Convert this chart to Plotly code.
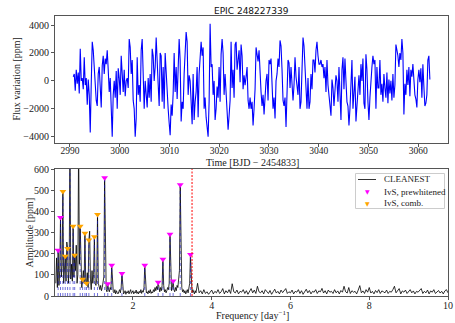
import numpy as np
import plotly.graph_objects as go

# ---------------- light curve (top panel) ----------------
t_start = 2990.67
cadence = 0.2008
flux = [300, 500, -700, 800, -200, 600, -900, 2300, 0, 200, -600, 1700, -300, 200, -1700, 100, -1000, -3700, -200, 2800,
        2200, 1000, -1000, -1400, -1800, 500, 1000, -800, -1900, 1100, 1800, 500, 1600, 1200, 2200, 800, -800, 200, -2300, -4000,
        -1000, 0, -1200, 700, -2000, 900, 200, -1000, 1800, 500, -800, 800, -1100, 0, 200, -500, 3000, 2400, 500, 1500,
        -1400, -2000, -4000, -2700, 1700, -1000, -300, -1500, 2200, 3000, 1000, -2000, 0, -1000, -1900, 200, -1200, 500, -1500, 2300,
        1800, 0, 1000, 3100, 800, -200, -1800, 2000, 1800, -1500, 1000, -2000, 2000, 600, -1500, -2000, -3000, -3900, -1700, -2500,
        -900, 2000, -800, 1000, -1300, 2000, 3000, 1500, -2900, -1500, -2000, 500, 1800, 3500, 2800, -1000, 400, 0, -1500, -3100,
        500, -2800, -1500, -800, 1000, -2600, 500, 2000, 2800, 1800, 2400, -2000, -1200, -2600, -3700, -4000, -1500, 4100, 1000, 1200,
        -1000, 0, -2800, -2000, -400, -1200, 1000, -1500, 1900, 3000, 2000, -1000, 500, -1000, -2000, -3500, -2500, -1400, 2800, -500,
        800, -1200, 2600, 2800, 800, 1800, 2200, -100, 2600, 1800, -600, 400, -300, 300, 1000, -1400, -2000, -1200, -2000, -1500,
        -3200, -2000, -600, 2400, 1700, 1400, 2200, 0, -800, -1800, -1000, -2400, -500, 0, 500, -1400, 1500, 1200, 1600, -800,
        -2000, -1200, -2700, 0, 500, 1600, 1000, 2900, 2500, 800, -1400, -1800, -1200, -3300, -1500, 1500, 1300, -500, 1000, 0,
        -1400, -300, 1700, 300, -500, -1000, 1000, -2000, -1500, 400, 3100, 2500, 900, -1400, -2000, 200, -2000, -1500, 500, -600,
        1500, 1500, 600, 2200, 2800, 1800, 1200, 1200, 1500, 1000, 1200, 200, 1000, -800, 1500, -300, -1000, -1400, -2500, 100,
        -500, -1800, -1000, 400, 0, -1500, 1000, -2000, -2800, 800, 1700, -600, 1600, 0, -1500, -1800, -3200, -2000, -600, 1500,
        -2000, -1000, 300, -2900, -1500, -400, 400, -1000, 1200, 0, 1600, -1600, -2000, 1900, 800, -1500, -2800, -1200, 500, 1000,
        1800, 1200, 1500, -2000, 1000, -500, -500, 1500, -1000, -200, -1500, 500, -500, -1200, 600, -1600, 100, -900, 0, -1400,
        500, -1200, -300, 2600, 2200, 1800, 1000, 2000, 1500, 3000, 2000, -2400, -200, -1000, 800, -300, 1000, -1100, 800, 300,
        1200, -300, -1000, -1300, -1900, 100, 800, -100, 900, -1200, 1200, -400, -1800, -1600, -1000, 1500, 1800, 100]
time = t_start + cadence * np.arange(len(flux))

# ---------------- amplitude spectrum (bottom panel) ----------------
freq_low_start, freq_low_step = 0.04, 0.02
amp_low = [60, 180, 40, 216, 50, 120, 371, 90, 140, 494,
           60, 130, 188, 70, 255, 224, 60, 130, 720, 80,
           150, 70, 329, 90, 193, 120, 240, 60, 100, 720,
           150, 329, 90, 40, 79, 120, 60, 297, 70, 60,
           110, 40, 264, 306, 80, 30, 120, 60, 100, 280,
           60, 50, 80, 385, 60, 40, 30, 50, 25, 40,
           60, 90, 559, 80, 30, 20, 58, 30, 20, 40,
           30, 145, 50, 20, 15, 30, 10, 25, 15, 10,
           20, 30, 15, 40, 106, 30, 10, 15, 25, 8,
           20, 15, 25, 10, 20, 30, 12, 18, 25, 10,
           20, 15, 28, 12, 20, 10, 22, 15, 30, 12,
           25, 18, 40, 145, 40, 15, 20, 10, 25, 15,
           30, 12, 20, 15, 30, 20, 40, 25, 45, 30,
           65, 30, 20, 40, 25, 50, 174, 50, 20, 30,
           15, 25, 40, 30, 60, 292, 60, 25, 40, 71,
           30, 20, 40, 25, 50, 40, 80, 120, 526, 100,
           40, 20, 30, 15, 25, 10, 20, 30, 15, 40,
           60, 196, 40, 15, 30, 20, 10, 25, 15]
freq_high_start, freq_high_step = 3.64, 0.04
amp_high = [60, 15, 25, 10, 30, 12, 20, 8, 18, 28, 10, 22, 15, 30, 12, 20, 35, 10, 25, 15,
            30, 12, 58, 20, 15, 28, 10, 22, 18, 30, 12, 25, 8, 20, 35, 15, 28, 12, 46, 20,
            15, 25, 10, 30, 18, 12, 26, 8, 20, 32, 14, 22, 10, 28, 16, 24, 35, 12, 20, 15,
            28, 10, 22, 18, 30, 12, 25, 8, 20, 32, 15, 26, 10, 22, 18, 30, 12, 24, 20, 36,
            14, 25, 10, 28, 18, 22, 12, 30, 15, 24, 10, 26, 18, 46, 20, 14, 40, 12, 25, 18,
            22, 10, 28, 49, 15, 24, 12, 30, 18, 40, 14, 22, 10, 26, 16, 30, 12, 24, 20, 15,
            28, 12, 22, 18, 30, 46, 15, 25, 35, 10, 24, 18, 28, 12, 20, 30, 15, 24, 10, 22,
            18, 26, 35, 12, 22, 15, 28, 10, 24, 18, 30, 12, 20, 26, 14, 22, 10, 24, 30, 15]
freq = np.concatenate([
    np.round(freq_low_start + freq_low_step * np.arange(len(amp_low)), 3),
    np.round(freq_high_start + freq_high_step * np.arange(len(amp_high)), 3),
])
amp = np.array(amp_low + amp_high, dtype=float)

prew_f = [0.10, 0.16, 0.40, 1.28, 1.36, 1.46, 1.72, 2.30, 2.64, 2.76, 2.94, 3.02, 3.20, 3.46]
prew_a = [216, 371, 720, 559, 58, 145, 106, 145, 65, 174, 292, 71, 526, 196]
comb_f = [0.22, 0.28, 0.34, 0.48, 0.52, 0.66, 0.72, 0.78, 0.82, 0.88, 1.02, 1.10]
comb_a = [494, 188, 224, 329, 193, 329, 79, 297, 60, 264, 280, 385]
nyquist_f = 3.5

title_text = "EPIC 248227339"
legend_labels = ["CLEANEST", "IvS, prewhitened", "IvS, comb."]

# ---------------- figure ----------------
SERIF = "Liberation Serif, DejaVu Serif, serif"
SANS = "DejaVu Sans, sans-serif"
AX = "#555555"
TXT = "#222222"
MAG = "#ff00ff"
ORG = "#ffa500"

fig = go.Figure()

fig.add_trace(go.Scatter(x=time, y=flux, mode="lines",
                         line=dict(color="#0000ff", width=1.1),
                         xaxis="x", yaxis="y", showlegend=False))

fig.add_trace(go.Scatter(x=freq, y=amp, mode="lines", name=legend_labels[0],
                         line=dict(color="rgba(0,0,0,0.8)", width=1),
                         xaxis="x2", yaxis="y2", showlegend=False))

# stems for identified frequencies
stem_x, stem_y = [], []
for f, a in list(zip(prew_f, prew_a)) + list(zip(comb_f, comb_a)):
    stem_x += [f, f, None]
    stem_y += [0, a, None]
fig.add_trace(go.Scatter(x=stem_x, y=stem_y, mode="lines",
                         line=dict(color="rgba(20,20,200,0.6)", width=1, dash="dot"),
                         xaxis="x2", yaxis="y2", showlegend=False, hoverinfo="skip"))

fig.add_trace(go.Scatter(x=prew_f, y=prew_a, mode="markers", name=legend_labels[1],
                         marker=dict(symbol="triangle-down", size=6, color=MAG),
                         xaxis="x2", yaxis="y2", showlegend=False))
fig.add_trace(go.Scatter(x=comb_f, y=comb_a, mode="markers", name=legend_labels[2],
                         marker=dict(symbol="triangle-down", size=6, color=ORG),
                         xaxis="x2", yaxis="y2", showlegend=False))

fig.add_shape(type="line", x0=nyquist_f, x1=nyquist_f, y0=0, y1=1,
              xref="x2", yref="y2 domain",
              line=dict(color="red", width=1, dash="2px,1.5px"))

# ---- legend box (drawn manually, paper coordinates of the lower panel) ----
def px_x(px):
    return (px - 55) / 393.0

def px_y(py):
    return (296 - py) / 280.0

fig.add_shape(type="rect", xref="paper", yref="paper",
              x0=px_x(355.5), x1=px_x(444.5), y0=px_y(208.5), y1=px_y(173.5),
              line=dict(color="#cccccc", width=1), fillcolor="rgba(255,255,255,0.85)")
fig.add_shape(type="line", xref="paper", yref="paper",
              x0=px_x(358), x1=px_x(376), y0=px_y(179.5), y1=px_y(179.5),
              line=dict(color="rgba(0,0,0,0.8)", width=1))

legend_rows_y = [179.5, 191.5, 203]
annotations = []
for label, ry in zip(legend_labels, legend_rows_y):
    annotations.append(dict(text=label, x=px_x(382), y=px_y(ry), xref="paper", yref="paper",
                            xanchor="left", yanchor="middle", showarrow=False,
                            font=dict(family=SERIF, size=9, color=TXT)))
for col, ry in [(MAG, legend_rows_y[1]), (ORG, legend_rows_y[2])]:
    annotations.append(dict(text="▼", x=px_x(367), y=px_y(ry), xref="paper", yref="paper",
                            xanchor="center", yanchor="middle", showarrow=False,
                            font=dict(family=SANS, size=6, color=col)))

annotations += [
    dict(text=title_text, x=0.5, y=px_y(10.5), xref="paper", yref="paper",
         xanchor="center", yanchor="middle", showarrow=False,
         font=dict(family=SANS, size=9, color="#111")),
    dict(text="Flux variation [ppm]", x=px_x(16), y=px_y(79.5), xref="paper", yref="paper",
         textangle=-90, showarrow=False, xanchor="center", yanchor="middle",
         font=dict(family=SERIF, size=10, color=TXT)),
    dict(text="Time [BJD − 2454833]", x=px_x(252), y=px_y(162.5), xref="paper", yref="paper",
         showarrow=False, xanchor="center", yanchor="middle",
         font=dict(family=SERIF, size=10, color=TXT)),
    dict(text="Amplitude [ppm]", x=px_x(29), y=px_y(232.5), xref="paper", yref="paper",
         textangle=-90, showarrow=False, xanchor="center", yanchor="middle",
         font=dict(family=SERIF, size=10, color=TXT)),
    dict(text="Frequency [day<sup>−1</sup>]", x=px_x(252), y=px_y(315), xref="paper", yref="paper",
         showarrow=False, xanchor="center", yanchor="middle",
         font=dict(family=SERIF, size=10, color=TXT)),
]

axis_common = dict(showline=True, mirror=True, linecolor=AX, linewidth=1,
                   ticks="outside", ticklen=3, tickcolor=AX, showgrid=False,
                   zeroline=False, automargin=False,
                   tickfont=dict(family=SERIF, size=10, color=TXT))

top_x_axis = dict(axis_common)
top_x_axis["tickfont"] = dict(family=SERIF, size=9.5, color=TXT)

fig.update_layout(
    template="none",
    width=455, height=323,
    margin=dict(l=55, r=7, t=16, b=27, autoexpand=False),
    paper_bgcolor="white", plot_bgcolor="white",
    showlegend=False,
    xaxis=dict(domain=[0, 1], anchor="y", range=[2987.0, 3066.0], ticklabelstandoff=-4,
               tickvals=[2990, 3000, 3010, 3020, 3030, 3040, 3050, 3060], **top_x_axis),
    yaxis=dict(domain=[px_y(143), 1.0], anchor="x", range=[-4450, 4650],
               tickvals=[-4000, -2000, 0, 2000, 4000], **axis_common),
    xaxis2=dict(domain=[0, 1], anchor="y2", range=[0.02, 10.0], ticklabelstandoff=-3,
                tickvals=[2, 4, 6, 8, 10], **axis_common),
    yaxis2=dict(domain=[0, px_y(169)], anchor="x2", range=[0, 600],
                tickvals=[0, 100, 200, 300, 400, 500, 600], **axis_common),
    annotations=annotations,
)

fig.write_html("out.html", config={"displayModeBar": False},
               post_script="document.body.style.margin='0';document.body.style.overflow='hidden';")
